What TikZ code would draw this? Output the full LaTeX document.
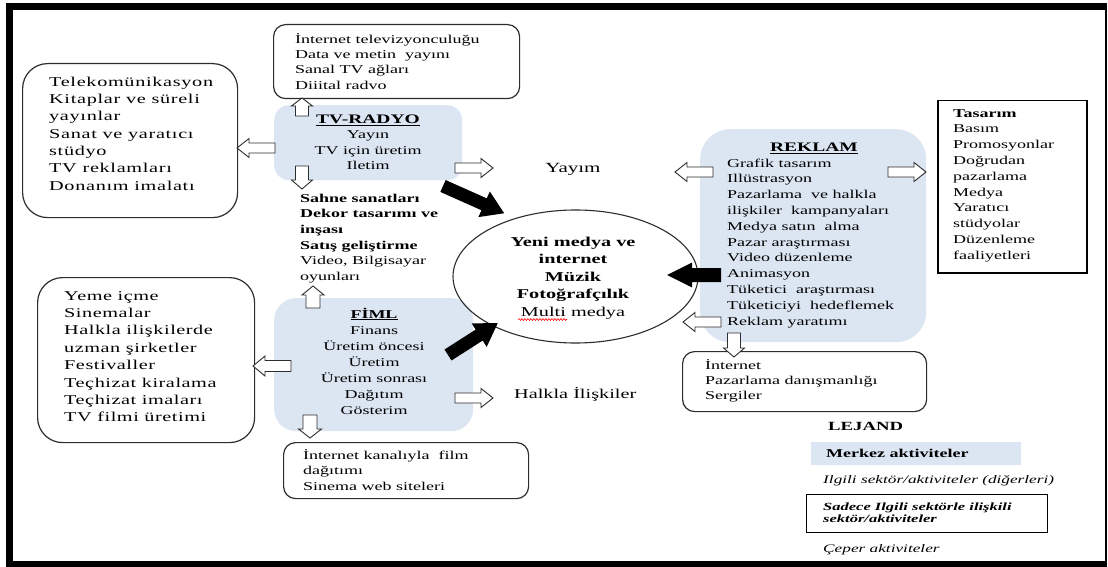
\documentclass[tikz,border=0pt]{standalone}
\usepackage{fontspec}
\setmainfont[FakeStretch=1.5]{Liberation Serif}
\usetikzlibrary{shapes.geometric,decorations.pathmorphing}

\definecolor{corefill}{RGB}{220,230,242}
\definecolor{edge}{RGB}{45,45,45}

% block arrow: [style]{x}{y}{angle}{length}{shaft half width}{head half width}{head length}
\newcommand{\blockarrow}[8][]{%
  \begin{scope}[shift={(#2,#3)},rotate=#4]
    \path[#1] (0,-#6) -- ({#5-#8},-#6) -- ({#5-#8},-#7) -- (#5,0)
      -- ({#5-#8},#7) -- ({#5-#8},#6) -- (0,#6) -- cycle;
  \end{scope}}

\tikzset{
  outlinebox/.style={draw=edge, line width=1.2pt, fill=white, inner sep=0pt, anchor=north west},
  corebox/.style={fill=corefill, inner sep=0pt, anchor=north west},
  txt/.style={inner sep=0pt, anchor=north west, align=left, font=\fontsize{12}{15.6}\selectfont},
  ctxt/.style={inner sep=0pt, anchor=north, align=center},
  label/.style={inner sep=0pt, anchor=base west},
  widetxt/.style={txt, font={\fontsize{13.5}{17.3}\selectfont\addfontfeature{LetterSpace=5}}},
  openarrow/.style={draw=edge, fill=white, line width=0.9pt, line join=miter},
  solidarrow/.style={fill=black},
}

\begin{document}
\begin{tikzpicture}[x=1pt,y=-1pt]
\useasboundingbox (0,0) rectangle (1108,567);
\fill[white] (0,0) rectangle (1108,567);
% heavy outer frame
\fill[black] (6,3) rectangle (1107,567);
\fill[white] (13,10) rectangle (1104.5,561);

% core sector panels
\node[corebox, rounded corners=15pt, minimum width=188pt, minimum height=75pt] (tvradyo) at (274,105) {};
\node[corebox, rounded corners=22pt, minimum width=199pt, minimum height=133pt] (film) at (274,298) {};
\node[corebox, rounded corners=30pt, minimum width=226pt, minimum height=213pt] (reklam) at (700,129) {};

% related sector boxes
\node[outlinebox, rounded corners=12pt, minimum width=246pt, minimum height=74pt] (tvout) at (273,24) {};
\node[outlinebox, rounded corners=25pt, minimum width=215pt, minimum height=154pt] (tvside) at (22,63) {};
\node[outlinebox, rounded corners=25pt, minimum width=217pt, minimum height=165pt] (filmside) at (37,277) {};
\node[outlinebox, rounded corners=12pt, minimum width=245pt, minimum height=56pt] (filmout) at (283,442) {};
\node[outlinebox, rounded corners=12pt, minimum width=244pt, minimum height=60pt] (reklamout) at (682,351) {};
\node[outlinebox, draw=black, line width=1.5pt, minimum width=149pt, minimum height=172pt] (reklamside) at (937,100) {};

% centre
\node[draw=edge, line width=1.1pt, ellipse, inner sep=0pt, minimum width=245pt, minimum height=133pt] (core) at (575.5,276.5) {};

% hollow arrows
\blockarrow[openarrow]{302}{116}{90}{18}{6.5}{10.5}{8}
\blockarrow[openarrow]{275}{148}{180}{38}{5}{9.5}{12}
\blockarrow[openarrow]{302}{166}{270}{23}{6.5}{10.5}{9}
\blockarrow[openarrow]{455}{168}{0}{38}{5}{9.5}{12}
\blockarrow[openarrow]{713}{172}{180}{38}{5}{9.5}{12}
\blockarrow[openarrow]{888}{172}{0}{38}{5}{9.5}{12}
\blockarrow[openarrow]{721}{322}{180}{38}{5}{9.5}{12}
\blockarrow[openarrow]{734}{333}{270}{24}{6.5}{10.5}{9}
\blockarrow[openarrow]{313}{308}{90}{22}{7}{11}{9}
\blockarrow[openarrow]{291}{366}{180}{38}{5.5}{10}{12}
\blockarrow[openarrow]{310}{415}{270}{23}{7}{11.5}{9}
\blockarrow[openarrow]{455}{398}{0}{38}{5}{9.5}{12}

% solid arrows into the centre
\blockarrow[solidarrow]{443}{186}{-24}{67}{6.5}{14}{22}
\blockarrow[solidarrow]{448}{355}{32.6}{59}{6.5}{14}{22}
\blockarrow[solidarrow]{721}{275}{180}{54}{7}{12.5}{25}

% texts
\node[txt, font=\fontsize{12}{15.3}\selectfont] (t1) at (295,32.3)
  {\strut İnternet televizyonculuğu\\Data ve metin\ \ yayını\\Sanal TV ağları\\Diiital radvo};
\node[widetxt] (t2) at (49,73.9)
  {\strut Telekomünikasyon\\Kitaplar ve süreli\\yayınlar\\Sanat ve yaratıcı\\stüdyo\\TV reklamları\\Donanım imalatı};
\node[ctxt, font=\fontsize{12}{15.5}\selectfont] (t3) at (368,112.2)
  {\strut{\fontsize{13}{15.5}\selectfont\bfseries\underline{TV-RADYO}}\\Yayın\\TV için üretim\\Iletim};
\node[txt, font=\fontsize{12}{15.6}\selectfont] (t4) at (300,191.1)
  {\strut\textbf{Sahne sanatları}\\\textbf{Dekor tasarımı ve}\\\textbf{inşası}\\\textbf{Satış geliştirme}\\Video, Bilgisayar\\oyunları};
\node[label, anchor=base, font=\fontsize{14}{16}\selectfont] (yayim) at (573,172) {Yayım};
\node[ctxt, font=\fontsize{13.5}{17.5}\selectfont] (t5) at (573,233.75)
  {\strut\textbf{Yeni medya ve}\\\textbf{internet}\\\textbf{Müzik}\\\textbf{Fotoğrafçılık}\\Multi medya};
\draw[red, line width=0.6pt, decorate, decoration={snake, amplitude=0.9pt, segment length=3pt}]
  (518,319.5) -- (567,319.5);
\node[label, anchor=base, font=\fontsize{13}{15}\selectfont\bfseries] (rh) at (814,152) {\underline{REKLAM}};
\node[txt, font=\fontsize{12}{15.8}\selectfont] (t6) at (727,155.9)
  {\strut Grafik tasarım\\Illüstrasyon\\Pazarlama\ \ ve halkla\\ilişkiler\ \ kampanyaları\\Medya satın\ \ alma\\Pazar araştırması\\Video düzenleme\\Animasyon\\Tüketici\ \ araştırması\\Tüketiciyi\ \ hedeflemek\\Reklam yaratımı};
\node[txt, font=\fontsize{12}{15.8}\selectfont] (t7) at (953,105.9)
  {\strut\textbf{Tasarım}\\Basım\\Promosyonlar\\Doğrudan\\pazarlama\\Medya\\Yaratıcı\\stüdyolar\\Düzenleme\\faaliyetleri};
\node[txt, font=\fontsize{12}{15}\selectfont] (t8) at (705,358.5)
  {\strut İnternet\\Pazarlama danışmanlığı\\Sergiler};
\node[ctxt, font=\fontsize{12}{16}\selectfont] (t9) at (374,306.8)
  {\strut\textbf{\underline{FİML}}\\Finans\\Üretim öncesi\\Üretim\\Üretim sonrası\\Dağıtım\\Gösterim};
\node[widetxt, font={\fontsize{13.5}{17.4}\selectfont\addfontfeature{LetterSpace=4}}] (t10) at (64,287.8)
  {\strut Yeme içme\\Sinemalar\\Halkla ilişkilerde\\uzman şirketler\\Festivaller\\Teçhizat kiralama\\Teçhizat imaları\\TV filmi üretimi};
\node[txt, font=\fontsize{12}{15.5}\selectfont] (t11) at (303,448.15)
  {\strut İnternet kanalıyla\ \ film\\dağıtımı\\Sinema web siteleri};
\node[label, font=\fontsize{13.5}{16}\selectfont] (halkla) at (514,398) {Halkla İlişkiler};

% legend
\node[corebox, minimum width=210pt, minimum height=23pt] (keycore) at (811,442) {};
\node[outlinebox, draw=black, line width=1.3pt, minimum width=241pt, minimum height=38pt] (keyonly) at (806,494) {};
\node[label, font=\fontsize{12.5}{15}\selectfont\bfseries] (lejand) at (828,430) {LEJAND};
\node[label, font=\fontsize{12}{15}\selectfont\bfseries] (k1) at (826,457) {Merkez aktiviteler};
\node[label, font=\fontsize{11.5}{14}\selectfont\itshape] (k2) at (823,483) {Ilgili sektör/aktiviteler (diğerleri)};
\node[txt, font=\fontsize{11}{12}\selectfont\bfseries\itshape] (k3) at (823,501.6)
  {\strut Sadece Ilgili sektörle ilişkili\\sektör/aktiviteler};
\node[label, font=\fontsize{11.5}{14}\selectfont\itshape] (k4) at (823,552) {Çeper aktiviteler};
\end{tikzpicture}
\end{document}
